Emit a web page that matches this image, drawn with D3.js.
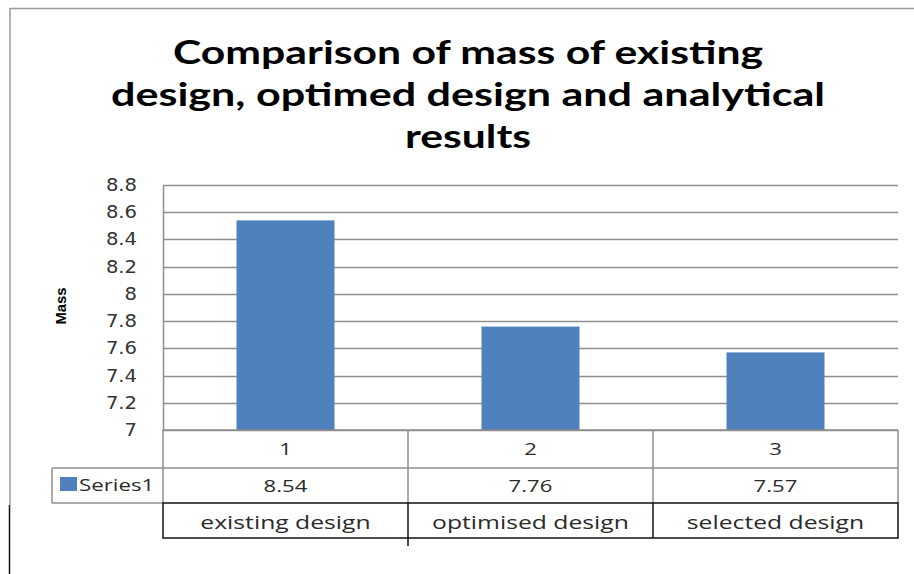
<!DOCTYPE html>
<html>
<head>
<meta charset="utf-8">
<script src="https://cdn.jsdelivr.net/npm/d3@7"></script>
<style>
  body { margin: 0; background: #fff; }
  svg { display: block; }
</style>
</head>
<body>
<svg id="chart" width="914" height="574"></svg>
<script>
// data
var categories = ["existing design", "optimised design", "selected design"];
var indexLabels = ["1", "2", "3"];
var mass = [8.54, 7.76, 7.57];
var seriesName = "Series1";
var yTicks = [7, 7.2, 7.4, 7.6, 7.8, 8, 8.2, 8.4, 8.6, 8.8];
var titleLines = ["Comparison of mass of existing", "design, optimed design and analytical", "results"];

var svg = d3.select("#chart");
var plotLeft = 163, plotRight = 898, plotTop = 185, plotBottom = 430;
var grey = "#8e8e8e";
var blue = "#4f81bd";
var txtFont = "'Open Sans', sans-serif";

// the original picture is stretched sideways a bit
function stretch(sel, k) {
    sel.each(function () {
        var w = this.getComputedTextLength();
        d3.select(this).attr("textLength", w * k).attr("lengthAdjust", "spacingAndGlyphs");
    });
}

var x = d3.scaleBand().domain(d3.range(categories.length)).range([plotLeft, plotRight])
    .paddingInner(0.6).paddingOuter(0.3);
var cell = d3.scaleBand().domain(d3.range(categories.length)).range([plotLeft, plotRight]);
var y = d3.scaleLinear().domain([7, 8.8]).range([plotBottom, plotTop]);

// outer frame (only top and left visible)
svg.append("line").attr("x1", 10).attr("x2", 914).attr("y1", 8.5).attr("y2", 8.5)
    .attr("stroke", "#9a9a9a").attr("stroke-width", 1.5);
svg.append("line").attr("x1", 10).attr("x2", 10).attr("y1", 8).attr("y2", 505)
    .attr("stroke", "#9a9a9a").attr("stroke-width", 1.5);
svg.append("line").attr("x1", 9.5).attr("x2", 9.5).attr("y1", 505).attr("y2", 574)
    .attr("stroke", "#111").attr("stroke-width", 1.5);

// title
var titleWidths = [590, 714, 126];
svg.append("g").selectAll("text").data(titleLines).join("text")
    .attr("x", 468)
    .attr("y", (d, i) => 64 + i * 42)
    .attr("text-anchor", "middle")
    .attr("font-family", "Lato, sans-serif")
    .attr("font-weight", "bold")
    .attr("font-size", 33)
    .attr("textLength", (d, i) => titleWidths[i])
    .attr("lengthAdjust", "spacingAndGlyphs")
    .attr("fill", "#000")
    .text(d => d);

// gridlines
svg.append("g").selectAll("line").data(yTicks).join("line")
    .attr("x1", plotLeft).attr("x2", plotRight)
    .attr("y1", d => Math.round(y(d)) + 0.5).attr("y2", d => Math.round(y(d)) + 0.5)
    .attr("stroke", grey).attr("stroke-width", 1.5);

// y axis
var yAxis = svg.append("g")
    .attr("transform", "translate(" + plotLeft + ",0)")
    .call(d3.axisLeft(y).tickValues(yTicks).tickSize(0).tickPadding(26).tickFormat(d3.format("~g")));
yAxis.select(".domain").attr("stroke", grey).attr("stroke-width", 1.5);
yAxis.selectAll("text")
    .attr("font-family", "'DejaVu Sans', Verdana, sans-serif")
    .attr("font-size", 17)
    .attr("fill", "#333")
    .call(stretch, 1.15);

svg.append("text")
    .attr("transform", "translate(66,306) rotate(-90)")
    .attr("text-anchor", "middle")
    .attr("font-family", "'Liberation Sans Narrow', Arial, sans-serif")
    .attr("font-weight", "bold")
    .attr("font-size", 15)
    .attr("textLength", 37)
    .attr("lengthAdjust", "spacingAndGlyphs")
    .text("Mass");

// bars
svg.append("g").selectAll("rect").data(mass).join("rect")
    .attr("x", (d, i) => x(i))
    .attr("width", x.bandwidth())
    .attr("y", d => y(d))
    .attr("height", d => y(7) - y(d))
    .attr("fill", blue);

// data table
var r1 = 430, r2 = 468, r3 = 503, r4 = 538;
var tbl = svg.append("g");
// grey part: index row + value row
tbl.append("line").attr("x1", plotLeft).attr("x2", plotRight).attr("y1", r1).attr("y2", r1)
    .attr("stroke", grey).attr("stroke-width", 1.5);
tbl.append("line").attr("x1", 52).attr("x2", plotRight).attr("y1", r2).attr("y2", r2)
    .attr("stroke", grey).attr("stroke-width", 1.5);
tbl.append("line").attr("x1", 52).attr("x2", plotLeft).attr("y1", r3).attr("y2", r3)
    .attr("stroke", grey).attr("stroke-width", 1.5);
tbl.append("line").attr("x1", 52).attr("x2", 52).attr("y1", r2).attr("y2", r3)
    .attr("stroke", grey).attr("stroke-width", 1.5);
tbl.selectAll(".vg").data(d3.range(categories.length + 1)).join("line")
    .attr("class", "vg")
    .attr("x1", i => i < categories.length ? cell(i) : plotRight)
    .attr("x2", i => i < categories.length ? cell(i) : plotRight)
    .attr("y1", r1).attr("y2", r3)
    .attr("stroke", grey).attr("stroke-width", 1.5);
// black part: category names row
tbl.append("rect").attr("x", plotLeft).attr("y", r3).attr("width", plotRight - plotLeft).attr("height", r4 - r3)
    .attr("fill", "none").attr("stroke", "#111").attr("stroke-width", 1.5);
tbl.selectAll(".vb").data(d3.range(1, categories.length)).join("line")
    .attr("class", "vb")
    .attr("x1", i => cell(i)).attr("x2", i => cell(i))
    .attr("y1", r3).attr("y2", i => i === 1 ? 546 : r4)
    .attr("stroke", "#111").attr("stroke-width", 1.5);

function rowText(cls, data, yy, size) {
    tbl.selectAll("." + cls).data(data).join("text")
        .attr("class", cls)
        .attr("x", (d, i) => cell(i) + cell.bandwidth() / 2)
        .attr("y", yy)
        .attr("text-anchor", "middle")
        .attr("font-family", txtFont)
        .attr("font-size", size)
        .attr("fill", "#2a2a2a")
        .text(d => d)
        .call(stretch, 1.3);
}
rowText("idx", indexLabels, 455, 17);
rowText("val", mass.map(d => d3.format(".2f")(d)), 492, 17);
rowText("cat", categories, 529, 19);

// legend key
tbl.append("rect").attr("x", 60).attr("y", 477).attr("width", 17).attr("height", 14).attr("fill", blue);
tbl.append("text").attr("x", 79).attr("y", 491)
    .attr("font-family", txtFont).attr("font-size", 16.5).attr("fill", "#2a2a2a")
    .text(seriesName)
    .call(stretch, 1.35);
</script>
</body>
</html>
